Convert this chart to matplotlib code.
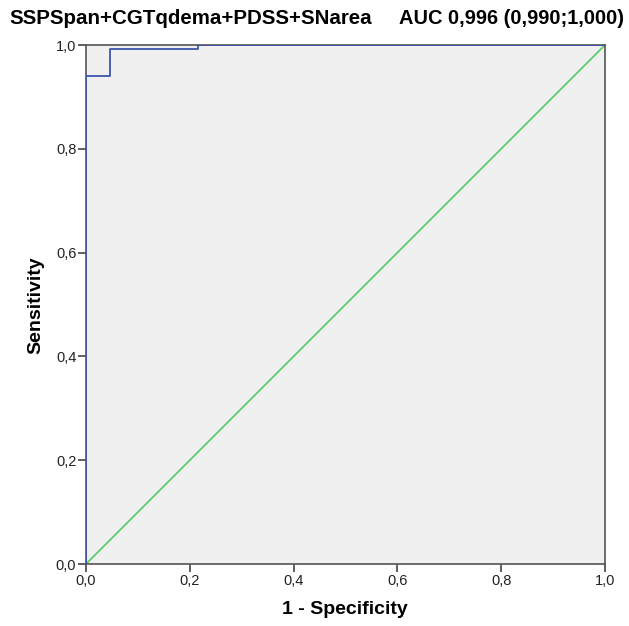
import matplotlib
matplotlib.use("Agg")
import matplotlib.pyplot as plt

plt.rcParams['font.family'] = ['Liberation Sans', 'DejaVu Sans']

# ROC curve points (1 - specificity, sensitivity), step shaped
fpr = [0.0, 0.0, 0.047, 0.047, 0.215, 0.215, 1.0]
tpr = [0.0, 0.940, 0.940, 0.992, 0.992, 1.0, 1.0]
ref_line = [0.0, 1.0]
ticks = [0.0, 0.2, 0.4, 0.6, 0.8, 1.0]
tick_labels = ["0,0", "0,2", "0,4", "0,6", "0,8", "1,0"]
title_left = "SSPSpan+CGTqdema+PDSS+SNarea"
title_right = "AUC 0,996 (0,990;1,000)"

fig = plt.figure(figsize=(6.29, 6.26), dpi=100)
ax = fig.add_axes([86 / 629, 62 / 626, 519 / 629, 519 / 626])
ax.set_facecolor("#f0f0f0")

ax.plot(ref_line, ref_line, color="#5ccc6a", lw=1.3, zorder=2)
ax.plot(fpr, tpr, color="#3d55a8", lw=1.3, zorder=3)

ax.set_xlim(0, 1)
ax.set_ylim(0, 1)
ax.set_xticks(ticks)
ax.set_xticklabels(tick_labels)
ax.set_yticks(ticks)
ax.set_yticklabels(tick_labels)
ax.tick_params(direction="out", length=6, width=1.2, color="#444444",
               labelsize=10.5, labelcolor="#222222", pad=1)
for s in ax.spines.values():
    s.set_color("#555555")
    s.set_linewidth(1.2)

fig.text(345 / 629, 1 - 610 / 626, "1 - Specificity", fontsize=14,
         fontweight="bold", ha="center", va="center")
fig.text(36 / 629, 1 - 305 / 626, "Sensitivity", fontsize=14,
         fontweight="bold", ha="center", va="center", rotation=90)

fig.text(9 / 629, 1 - 18 / 626, title_left, fontsize=14.8, fontweight="bold",
         va="center", ha="left")
fig.text(624 / 629, 1 - 18 / 626, title_right, fontsize=14.4, fontweight="bold",
         va="center", ha="right")

fig.savefig("out.png", dpi=100)
